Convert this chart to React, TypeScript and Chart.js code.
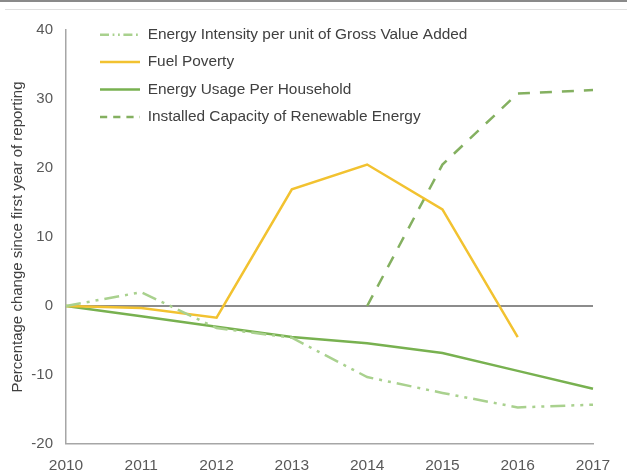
import React, { useEffect, useRef } from "react";
import { Chart, registerables } from "chart.js";

Chart.register(...registerables);

const years = ["2010", "2011", "2012", "2013", "2014", "2015", "2016", "2017"];
const energyIntensity = [0, 2.0, -3.2, -4.6, -10.3, -12.6, -14.7, -14.3];
const fuelPoverty = [0, -0.3, -1.7, 16.9, 20.5, 14.0, -4.5, null];
const energyUsage = [0, -1.5, -3.0, -4.5, -5.4, -6.8, -9.4, -12.0];
const renewableCapacity = [null, null, null, null, 0, 20.5, 30.8, 31.3];
const seriesNames = [
  "Energy Intensity per unit of Gross Value Added",
  "Fuel Poverty",
  "Energy Usage Per Household",
  "Installed Capacity of Renewable Energy",
];
const yMin = -20;
const yMax = 40;
const yStep = 10;
const yTitle = "Percentage change since first year of reporting";

const FONT = "'Liberation Sans', Arial, 'DejaVu Sans', sans-serif";

const legendPlacer = {
  id: "legendPlacer",
  afterLayout(chart: any) {
    const l = chart.legend;
    const a = chart.chartArea;
    if (!l || !a) return;
    l.left = a.left + 22;
    l.right = l.left + l.width;
    l.top = a.top - 15;
    l.bottom = a.bottom;
  },
};

export default function App() {
  const ref = useRef<HTMLCanvasElement | null>(null);

  useEffect(() => {
    if (!ref.current) return;
    const baseGen = (Chart.defaults.plugins.legend.labels as any).generateLabels;
    const chart = new Chart(ref.current, {
      type: "line",
      data: {
        labels: years,
        datasets: [
          {
            label: seriesNames[0],
            data: energyIntensity,
            borderColor: "#a9d18e",
            backgroundColor: "#a9d18e",
            borderWidth: 2.5,
            borderDash: [15, 6, 3, 6, 3, 6],
            pointRadius: 0,
            tension: 0,
          },
          {
            label: seriesNames[1],
            data: fuelPoverty,
            borderColor: "#f2c230",
            backgroundColor: "#f2c230",
            borderWidth: 2.5,
            pointRadius: 0,
            tension: 0,
          },
          {
            label: seriesNames[2],
            data: energyUsage,
            borderColor: "#78b150",
            backgroundColor: "#78b150",
            borderWidth: 2.5,
            pointRadius: 0,
            tension: 0,
          },
          {
            label: seriesNames[3],
            data: renewableCapacity,
            borderColor: "#84b060",
            backgroundColor: "#84b060",
            borderWidth: 2.5,
            borderDash: [12, 10],
            pointRadius: 0,
            tension: 0,
          },
        ],
      },
      options: {
        responsive: false,
        animation: false,
        spanGaps: false,
        layout: { padding: { left: 0, top: 30, right: 34, bottom: 0 } },
        plugins: {
          tooltip: { enabled: false },
          legend: {
            position: "chartArea" as any,
            align: "start",
            labels: {
              usePointStyle: true,
              pointStyle: "line",
              pointStyleWidth: 40,
              boxHeight: 15,
              padding: 12,
              color: "#404040",
              font: { family: FONT, size: 15.4 },
              generateLabels: (c: any) => {
                const items = baseGen(c);
                return items.map((it: any) => {
                  const ds = c.data.datasets[it.datasetIndex];
                  return {
                    ...it,
                    lineDash: ds.borderDash ? [ds.borderDash[0] * 0.6, ...ds.borderDash.slice(1).map((v: number) => v * 0.6)] : [],
                    lineWidth: 2.5,
                    strokeStyle: ds.borderColor,
                  };
                });
              },
            },
          },
        },
        scales: {
          x: {
            type: "category",
            offset: false,
            grid: { display: false },
            border: { display: true, color: "#a6a6a6", width: 1.5 },
            ticks: {
              color: "#595959",
              font: { family: FONT, size: 15.5 },
              padding: 4,
              maxRotation: 0,
              autoSkip: false,
            },
            afterFit: (s: any) => {
              s.height = 29;
            },
          },
          y: {
            min: yMin,
            max: yMax,
            grid: {
              drawTicks: false,
              color: (c: any) =>
                c.tick && c.tick.value === 0 ? "#8c8c8c" : "rgba(0,0,0,0)",
              lineWidth: (c: any) => (c.tick && c.tick.value === 0 ? 2 : 0),
            },
            border: { display: true, color: "#a6a6a6", width: 1.5 },
            ticks: {
              stepSize: yStep,
              color: "#595959",
              font: { family: FONT, size: 15 },
              padding: 13,
            },
            title: {
              display: true,
              text: yTitle,
              color: "#404040",
              font: { family: FONT, size: 15 },
              padding: { top: 9, bottom: 0 },
            },
            afterFit: (s: any) => {
              s.width = 66;
            },
          },
        },
      },
      plugins: [legendPlacer],
    });
    return () => chart.destroy();
  }, []);

  return (
    <div
      style={{
        position: "absolute",
        left: 0,
        top: 0,
        width: 627,
        height: 473,
        background: "#fff",
        overflow: "hidden",
      }}
    >
      <canvas ref={ref} width={627} height={473} style={{ display: "block" }} />
      <div
        style={{
          position: "absolute",
          left: 0,
          top: 0,
          width: 627,
          height: 2,
          background: "#8a8a8a",
        }}
      />
      <div
        style={{
          position: "absolute",
          left: 5,
          top: 9,
          width: 622,
          height: 1,
          background: "#e0e0e0",
        }}
      />
    </div>
  );
}
